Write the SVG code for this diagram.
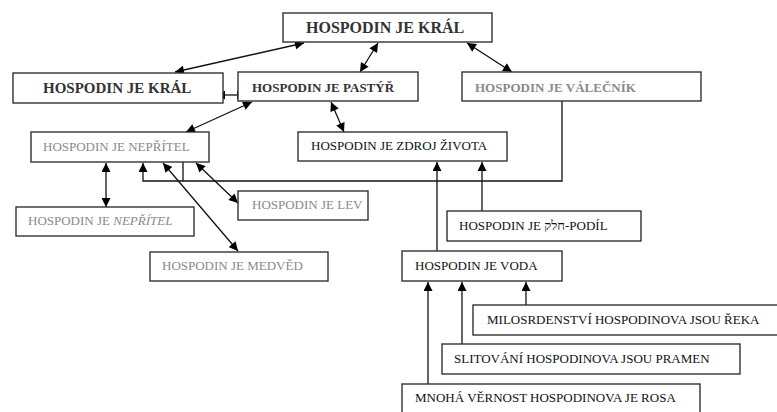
<svg xmlns="http://www.w3.org/2000/svg" width="777" height="412" viewBox="0 0 777 412">
<style>
.box{fill:#fff;stroke:#333;stroke-width:1.4}
text{font-family:'Liberation Serif','Times New Roman',serif;font-size:13px;fill:#111}
.g{fill:#8a8a8a}
.b{font-weight:bold}
.c{fill:none;stroke:#111;stroke-width:1.3}
</style>
<defs>
<marker id="ah" viewBox="0 0 10 10" refX="10" refY="5" markerWidth="10" markerHeight="9" markerUnits="userSpaceOnUse" orient="auto-start-reverse">
<path d="M0,0 L10,5 L0,10 z" fill="#000"/>
</marker>
</defs>
<rect width="777" height="412" fill="#fff"/>
<g id="connectors">
<line class="c" x1="175" y1="72" x2="304" y2="43" marker-start="url(#ah)" marker-end="url(#ah)"/>
<line class="c" x1="360" y1="72" x2="378" y2="43" marker-start="url(#ah)" marker-end="url(#ah)"/>
<line class="c" x1="512" y1="72" x2="467" y2="43" marker-start="url(#ah)" marker-end="url(#ah)"/>
<line class="c" x1="216" y1="95" x2="246" y2="95" marker-start="url(#ah)" marker-end="url(#ah)"/>
<line class="c" x1="186" y1="132" x2="252" y2="102" marker-start="url(#ah)" marker-end="url(#ah)"/>
<line class="c" x1="331" y1="102" x2="344" y2="132" marker-start="url(#ah)" marker-end="url(#ah)"/>
<line class="c" x1="106" y1="163" x2="106" y2="207" marker-start="url(#ah)" marker-end="url(#ah)"/>
<line class="c" x1="196" y1="163" x2="238" y2="203" marker-start="url(#ah)" marker-end="url(#ah)"/>
<line class="c" x1="163" y1="163" x2="238" y2="251" marker-start="url(#ah)" marker-end="url(#ah)"/>
<polyline class="c" points="562,101 562,181 143,181 143,163" marker-end="url(#ah)"/>
<line class="c" x1="183" y1="162" x2="183" y2="181"/>
<line class="c" x1="437" y1="251" x2="437" y2="162" marker-end="url(#ah)"/>
<line class="c" x1="482" y1="211" x2="482" y2="162" marker-end="url(#ah)"/>
<line class="c" x1="428" y1="384" x2="428" y2="282" marker-end="url(#ah)"/>
<line class="c" x1="462" y1="344" x2="462" y2="282" marker-end="url(#ah)"/>
<line class="c" x1="526" y1="305" x2="526" y2="282" marker-end="url(#ah)"/>
</g>
<g id="kral-top"><rect class="box" x="283" y="13" width="209" height="29"/><text class="b" x="306" y="33" style="font-size:16px;fill:#333">HOSPODIN JE KRÁL</text></g>
<g id="kral"><rect class="box" x="13" y="73" width="210" height="30"/><text class="b" x="43" y="93" style="font-size:15px;fill:#333">HOSPODIN JE KRÁL</text></g>
<g id="pastyr"><rect class="box" x="238" y="72" width="180" height="29"/><text class="b" x="252" y="92" style="fill:#333">HOSPODIN JE PASTÝŘ</text></g>
<g id="valecnik"><rect class="box" x="462" y="72" width="239" height="29"/><text class="b g" x="475" y="92">HOSPODIN JE VÁLEČNÍK</text></g>
<g id="nepritel"><rect class="box" x="31" y="132" width="178" height="30"/><text class="g" x="43" y="151">HOSPODIN JE NEPŘÍTEL</text></g>
<g id="zdroj"><rect class="box" x="298" y="132" width="209" height="29"/><text x="311" y="150">HOSPODIN JE ZDROJ ŽIVOTA</text></g>
<g id="nepritel-it"><rect class="box" x="16" y="207" width="178" height="29"/><text class="g" x="28" y="225">HOSPODIN JE <tspan font-style="italic">NEPŘÍTEL</tspan></text></g>
<g id="lev"><rect class="box" x="238" y="191" width="130" height="29"/><text class="g" x="252" y="209">HOSPODIN JE LEV</text></g>
<g id="medved"><rect class="box" x="150" y="252" width="178" height="29"/><text class="g" x="162" y="270">HOSPODIN JE MEDVĚD</text></g>
<g id="podil"><rect class="box" x="447" y="211" width="194" height="30"/><text x="459" y="230">HOSPODIN JE חלק-PODÍL</text></g>
<g id="voda"><rect class="box" x="402" y="251" width="160" height="30"/><text x="415" y="270">HOSPODIN JE VODA</text></g>
<g id="milosrdenstvi"><rect class="box" x="473" y="305" width="310" height="30"/><text x="487" y="324">MILOSRDENSTVÍ HOSPODINOVA JSOU ŘEKA</text></g>
<g id="slitovani"><rect class="box" x="442" y="344" width="298" height="30"/><text x="454" y="363">SLITOVÁNÍ HOSPODINOVA JSOU PRAMEN</text></g>
<g id="vernost"><rect class="box" x="402" y="384" width="298" height="40"/><text x="415" y="402">MNOHÁ VĚRNOST HOSPODINOVA JE ROSA</text></g>
</svg>
